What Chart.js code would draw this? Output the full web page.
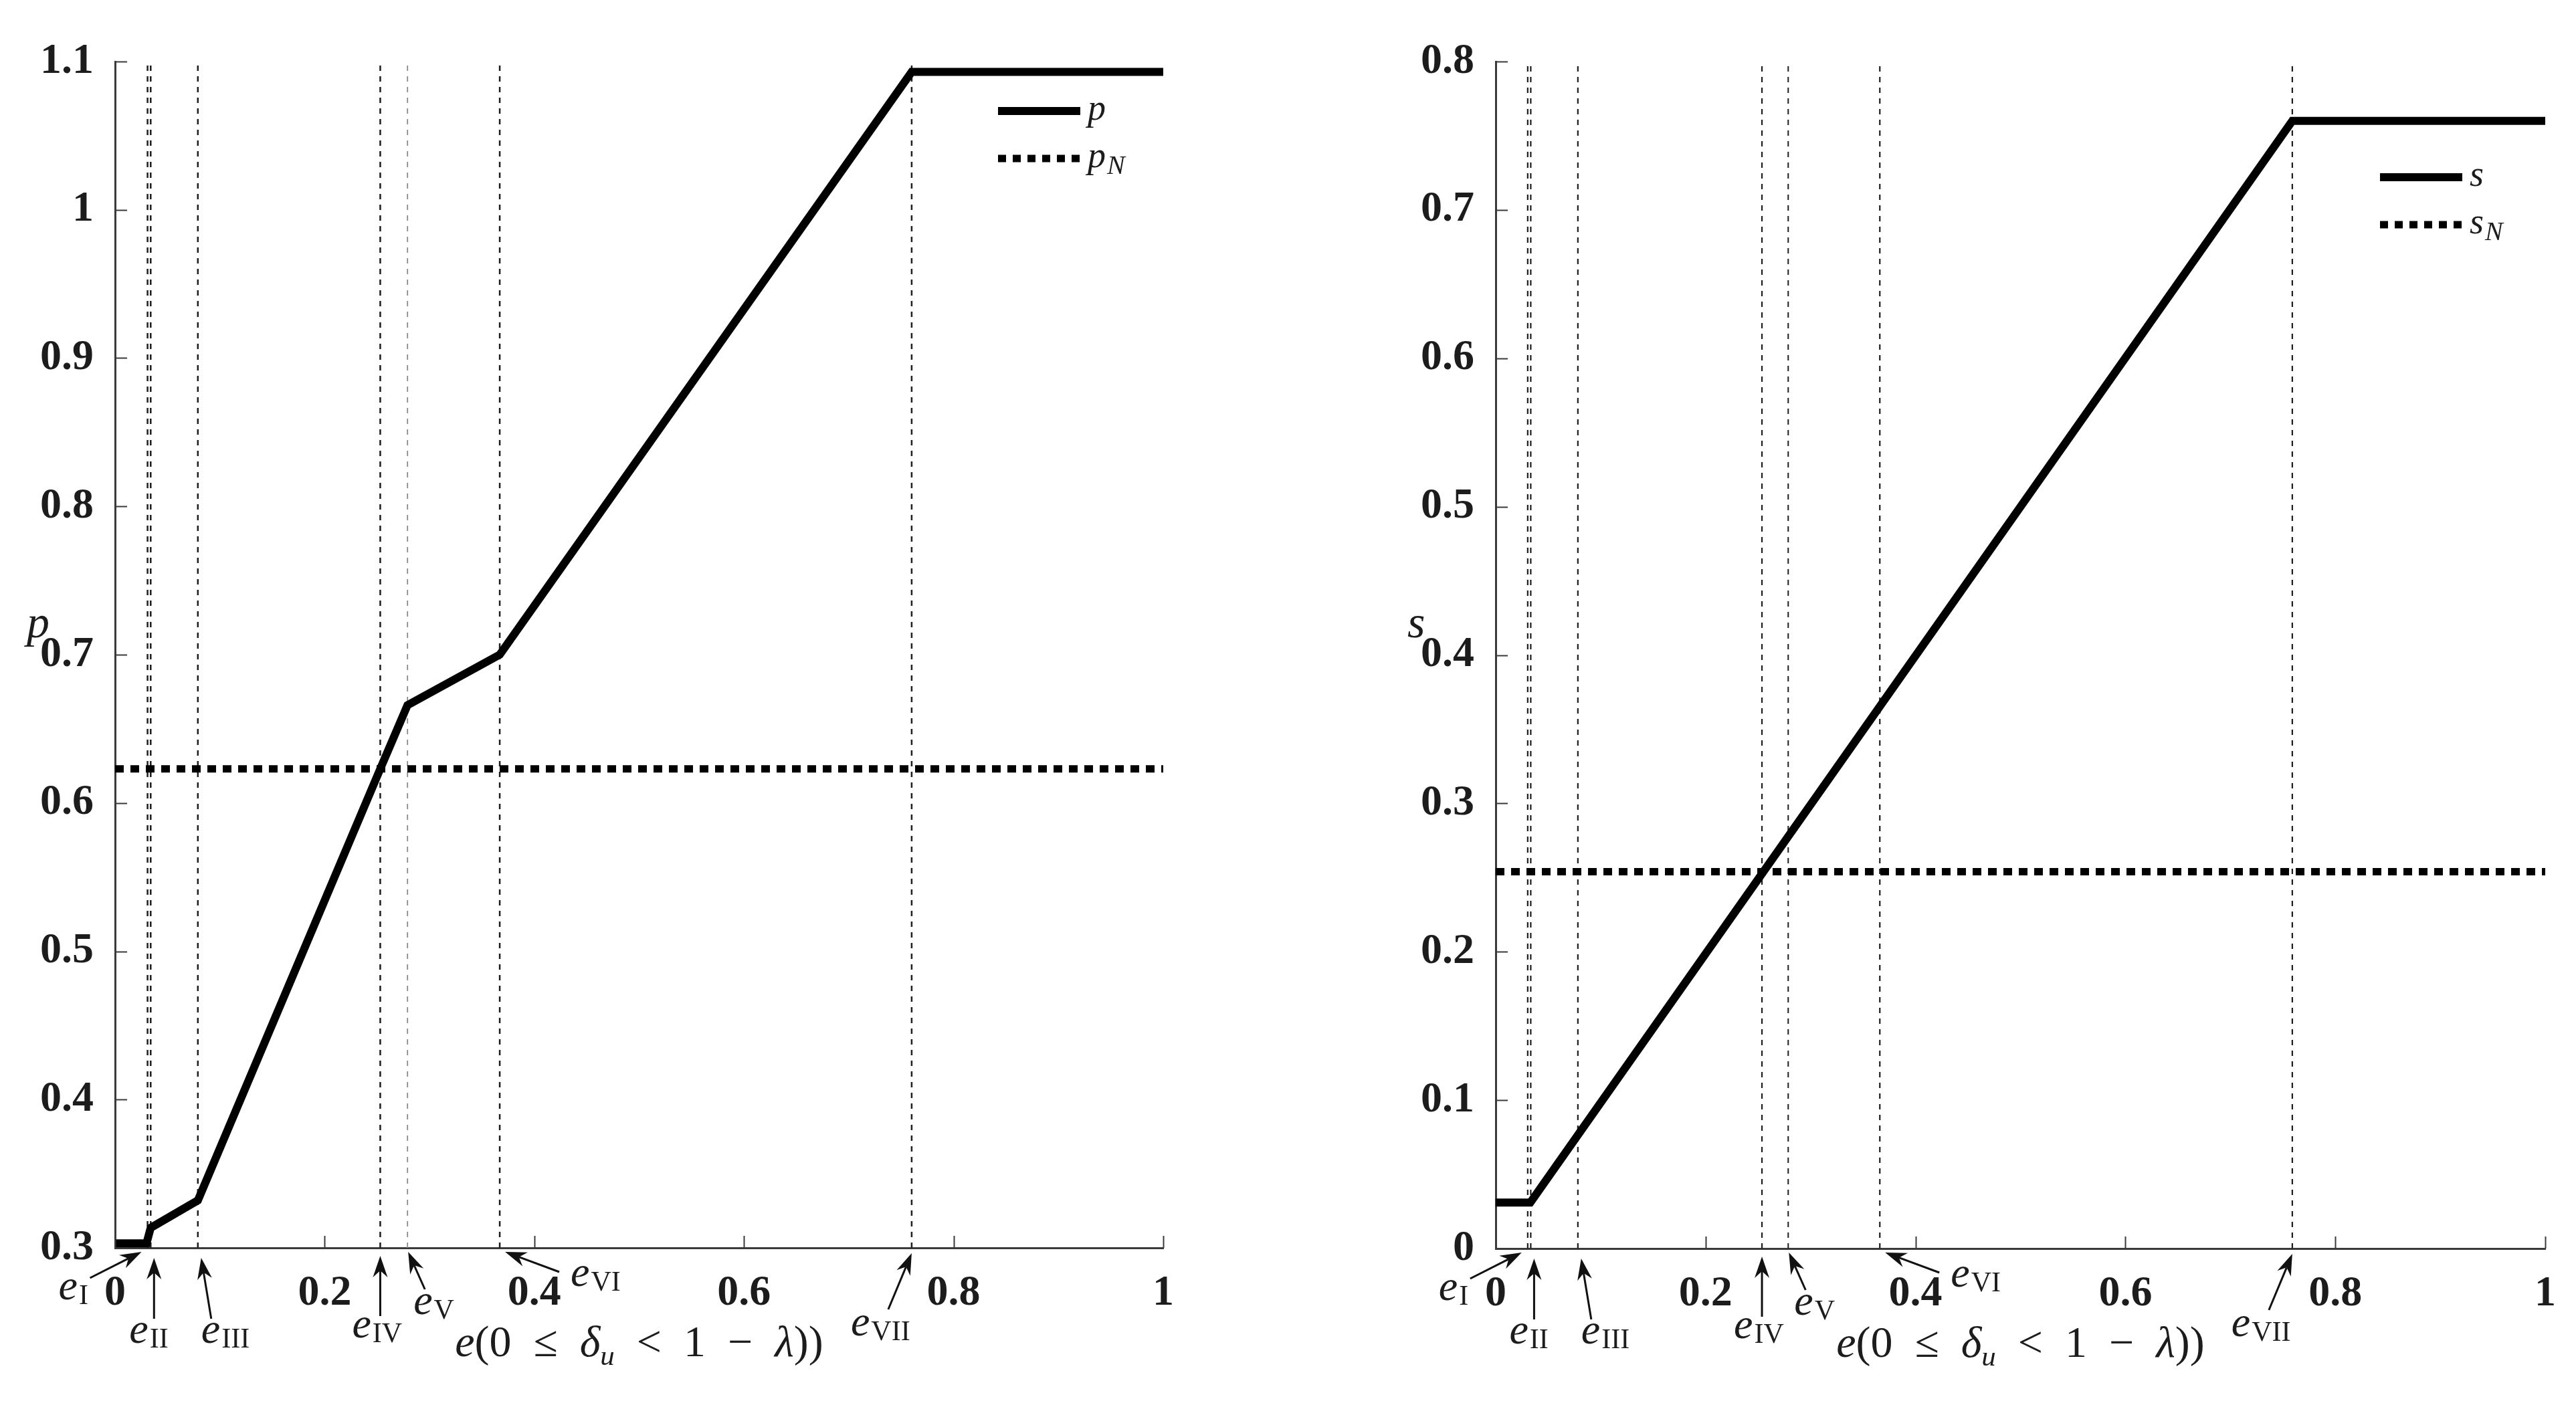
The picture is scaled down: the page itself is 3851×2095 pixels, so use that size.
<!DOCTYPE html>
<html lang="en">
<head>
    <meta charset="UTF-8">
    <title>p and s against e</title>
    <script src="https://cdn.jsdelivr.net/npm/chart.js@4.4.1/dist/chart.umd.min.js"></script>
    <style>
        html, body {margin: 0; padding: 0; width: 3851px; height: 2095px; overflow: hidden; background: #fff;}
        .box {position: absolute; top: 0; height: 2095px;}
        #leftBox {left: 0; width: 1925px;}
        #rightBox {left: 1925px; width: 1926px;}
    </style>
</head>
<body>
<div id="leftBox" class="box"><canvas id="pChart"></canvas></div>
<div id="rightBox" class="box"><canvas id="sChart"></canvas></div>

<script>
    // thresholds e_I ... e_VII
    const eNames = ['I', 'II', 'III', 'IV', 'V', 'VI', 'VII'];
    const eLeft = [0.031, 0.034, 0.079, 0.253, 0.279, 0.367, 0.760];
    const eRight = [0.0305, 0.0334, 0.0783, 0.2537, 0.2787, 0.366, 0.759];

    // left panel: p and p_N
    const pX = [0, 0.030, 0.034, 0.079, 0.253, 0.279, 0.367, 0.760, 1];
    const pY = [0.303, 0.303, 0.3135, 0.332, 0.623, 0.666, 0.700, 1.093, 1.093];
    const pN = 0.623;

    // right panel: s and s_N
    const sX = [0, 0.033, 0.759, 1];
    const sY = [0.031, 0.031, 0.760, 0.760];
    const sN = 0.254;

    const xTicks = [0, 0.2, 0.4, 0.6, 0.8, 1];
    const pTicks = [0.3, 0.4, 0.5, 0.6, 0.7, 0.8, 0.9, 1, 1.1];
    const sTicks = [0, 0.1, 0.2, 0.3, 0.4, 0.5, 0.6, 0.7, 0.8];

    const FONT = "'Liberation Serif', 'Times New Roman', serif";
    const AXIS = '#3a3a3a';
    const TXT = '#1c1c1c';

    // where the arrow tip, tail and the label sit, in px from (e, axis)
    const arrowLayout = [
        {tip: [-9, 6], tail: [-86, 45], label: [-133, 77]},
        {tip: [5, 15], tail: [5, 106], label: [-32, 142]},
        {tip: [5, 15], tail: [20, 106], label: [5, 142]},
        {tip: [0, 12], tail: [0, 102], label: [-42, 134]},
        {tip: [1, 6], tail: [26, 62], label: [9, 99]},
        {tip: [8, 6], tail: [89, 36], label: [106, 57]},
        {tip: [0, 8], tail: [-35, 92], label: [-91, 131]}
    ];

    const xTitle = [['e', 'i'], ['(', 'r'], ['0', 'r'], ['', 'g'], ['\u2264', 'r'], ['', 'g'], ['\u03b4', 'i'], ['u', 's'],
        ['', 'g'], ['<', 'r'], ['', 'g'], ['1', 'r'], ['', 'g'], ['\u2212', 'r'], ['', 'g'], ['\u03bb', 'i'], ['))', 'r']];

    function fmt(v) {
        return String(Number(v.toFixed(2)));
    }

    function drawArrow(ctx, x0, y0, x1, y1) {
        const ang = Math.atan2(y1 - y0, x1 - x0);
        const len = 32, half = 11, back = 22;
        ctx.beginPath();
        ctx.moveTo(x0, y0);
        ctx.lineTo(x1 - Math.cos(ang) * back, y1 - Math.sin(ang) * back);
        ctx.stroke();
        ctx.save();
        ctx.translate(x1, y1);
        ctx.rotate(ang);
        ctx.beginPath();
        ctx.moveTo(0, 0);
        ctx.lineTo(-len, -half);
        ctx.lineTo(-back, 0);
        ctx.lineTo(-len, half);
        ctx.closePath();
        ctx.fill();
        ctx.restore();
    }

    // italic symbol with an upright or italic subscript
    function subText(ctx, x, y, main, sub, size, subSize, subDy, subItalic) {
        ctx.font = `italic ${size}px ${FONT}`;
        ctx.fillText(main, x, y);
        const w = ctx.measureText(main).width;
        ctx.font = `${subItalic ? 'italic ' : ''}${subSize}px ${FONT}`;
        ctx.fillText(sub, x + w + 2, y + subDy);
    }

    function drawXTitle(ctx, cx, y) {
        const F = 66, gap = F * 0.5;
        const fontOf = s => s === 'i' ? `italic ${F}px ${FONT}` : s === 's' ? `italic ${Math.round(F * 0.65)}px ${FONT}` : `${F}px ${FONT}`;
        let total = 0;
        xTitle.forEach(([t, s]) => {
            if (s === 'g') { total += gap; return; }
            ctx.font = fontOf(s);
            total += ctx.measureText(t).width;
        });
        let x = cx - total / 2;
        xTitle.forEach(([t, s]) => {
            if (s === 'g') { x += gap; return; }
            ctx.font = fontOf(s);
            ctx.fillText(t, x, s === 's' ? y + F * 0.2 : y);
            x += ctx.measureText(t).width;
        });
    }

    function decor(o) {
        return {
            id: 'decor',
            afterDraw(chart) {
                const ctx = chart.ctx, xs = chart.scales.x, ys = chart.scales.y, a = chart.chartArea;
                ctx.save();

                // inward tick marks
                ctx.strokeStyle = AXIS;
                ctx.lineWidth = 2;
                ctx.beginPath();
                o.yTicks.forEach(v => {
                    const y = Math.round(ys.getPixelForValue(v)) + 0.5;
                    ctx.moveTo(a.left, y);
                    ctx.lineTo(a.left + 18, y);
                });
                xTicks.forEach(v => {
                    const x = Math.round(xs.getPixelForValue(v)) + 0.5;
                    ctx.moveTo(x, a.bottom);
                    ctx.lineTo(x, a.bottom - 18);
                });
                ctx.stroke();

                ctx.fillStyle = TXT;
                ctx.textAlign = 'left';
                ctx.textBaseline = 'alphabetic';

                // y title
                ctx.font = `italic 68px ${FONT}`;
                ctx.fillText(o.name, a.left - 132, a.top + 861);

                // legend
                const lx = a.right - 247, ly1 = a.top + o.legendDy, ly2 = ly1 + 71;
                ctx.strokeStyle = '#000';
                ctx.lineCap = 'butt';
                ctx.lineWidth = 12;
                ctx.beginPath();
                ctx.moveTo(lx, ly1);
                ctx.lineTo(lx + 123, ly1);
                ctx.stroke();
                ctx.lineWidth = 11;
                ctx.setLineDash([12, 10]);
                ctx.beginPath();
                ctx.moveTo(lx, ly2);
                ctx.lineTo(lx + 123, ly2);
                ctx.stroke();
                ctx.setLineDash([]);
                ctx.font = `italic 54px ${FONT}`;
                ctx.fillText(o.name, lx + 134, ly1 + 13);
                subText(ctx, lx + 134, ly2 + 13, o.name, 'N', 54, 40, 10, true);

                // arrows to the thresholds
                ctx.strokeStyle = '#111';
                ctx.fillStyle = '#111';
                ctx.lineWidth = 3;
                o.eVals.forEach((e, i) => {
                    const L = arrowLayout[i];
                    const x = xs.getPixelForValue(e), y = a.bottom;
                    drawArrow(ctx, x + L.tail[0], y + L.tail[1], x + L.tip[0], y + L.tip[1]);
                });
                ctx.fillStyle = TXT;
                o.eVals.forEach((e, i) => {
                    const L = arrowLayout[i];
                    const x = xs.getPixelForValue(e), y = a.bottom;
                    subText(ctx, x + L.label[0], y + L.label[1], 'e', eNames[i], 64, 42, 7, false);
                });

                // x title
                drawXTitle(ctx, (a.left + a.right) / 2, a.bottom + 162);

                ctx.restore();
            }
        };
    }

    function vLines(eVals, ticks, styles) {
        return eVals.map((e, i) => ({
            data: [{x: e, y: ticks[0]}, {x: e, y: ticks[ticks.length - 1]}],
            borderColor: styles[i][0],
            borderWidth: styles[i][1],
            borderDash: [8, 8],
            borderCapStyle: 'butt',
            order: 5
        }));
    }

    function makeChart(id, o) {
        const tickFont = {family: FONT, size: 64, weight: 'bold'};
        return new Chart(document.getElementById(id), {
            type: 'line',
            data: {
                datasets: [
                    {
                        data: o.xs.map((x, i) => ({x: x, y: o.ys[i]})),
                        borderColor: '#000', borderWidth: 12,
                        borderJoinStyle: 'miter', borderCapStyle: 'butt', order: 1
                    },
                    {
                        data: [{x: xTicks[0], y: o.nash}, {x: xTicks[xTicks.length - 1], y: o.nash}],
                        borderColor: '#000', borderWidth: 11, borderDash: [13, 10],
                        borderCapStyle: 'butt', order: 2
                    }
                ].concat(vLines(o.eVals, o.yTicks, o.lineStyles))
            },
            options: {
                responsive: true,
                maintainAspectRatio: false,
                animation: false,
                events: [],
                layout: {padding: {top: 92, right: o.padRight, bottom: 0, left: 0}},
                elements: {point: {radius: 0}, line: {tension: 0}},
                plugins: {legend: {display: false}, tooltip: {enabled: false}},
                scales: {
                    x: {
                        type: 'linear',
                        min: xTicks[0], max: xTicks[xTicks.length - 1],
                        afterBuildTicks: s => { s.ticks = xTicks.map(v => ({value: v})); },
                        afterFit: s => { s.height = o.xHeight; },
                        grid: {display: false},
                        border: {display: true, color: AXIS, width: 3},
                        ticks: {font: tickFont, color: TXT, padding: 22, maxRotation: 0, autoSkip: false, callback: fmt}
                    },
                    y: {
                        type: 'linear',
                        min: o.yTicks[0], max: o.yTicks[o.yTicks.length - 1],
                        afterBuildTicks: s => { s.ticks = o.yTicks.map(v => ({value: v})); },
                        afterFit: s => { s.width = o.yWidth; },
                        grid: {display: false},
                        border: {display: true, color: AXIS, width: 3},
                        ticks: {font: tickFont, color: TXT, padding: 24, autoSkip: false, callback: fmt}
                    }
                }
            },
            plugins: [decor(o)]
        });
    }

    const dark = '#1e1e1e';
    makeChart('pChart', {
        name: 'p', xs: pX, ys: pY, nash: pN, eVals: eLeft, yTicks: pTicks,
        yWidth: 172, xHeight: 229, padRight: 186, legendDy: 74,
        lineStyles: [[dark, 2.5], [dark, 2.5], [dark, 2.5], [dark, 2.5], ['#8a8a8a', 1.8], [dark, 2.5], [dark, 2.5]]
    });
    makeChart('sChart', {
        name: 's', xs: sX, ys: sY, nash: sN, eVals: eRight, yTicks: sTicks,
        yWidth: 311, xHeight: 228, padRight: 46, legendDy: 173,
        lineStyles: [[dark, 2.2], [dark, 2.2], [dark, 2.2], [dark, 2.2], [dark, 2], [dark, 2.2], [dark, 2.2]]
    });
</script>
</body>
</html>
